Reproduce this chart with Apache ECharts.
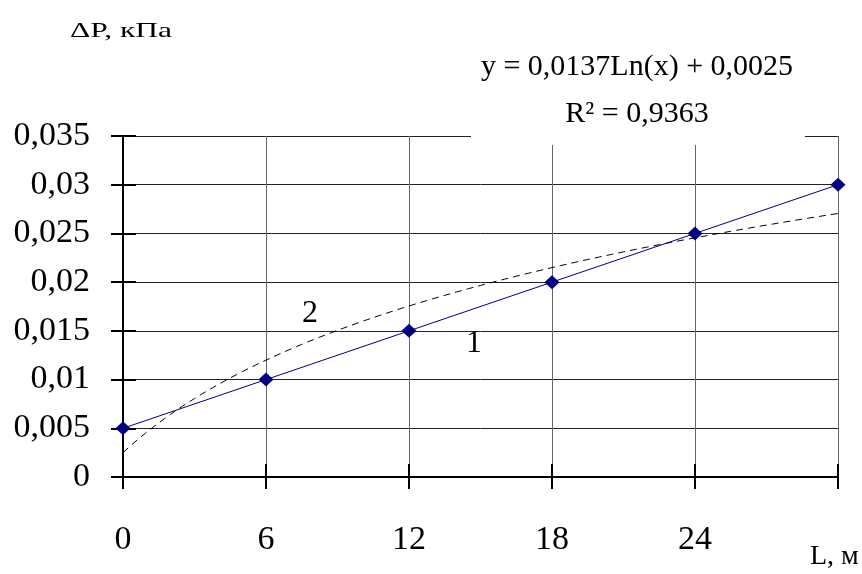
<!DOCTYPE html>
<html>
<head>
<meta charset="utf-8">
<script src="https://cdn.jsdelivr.net/npm/echarts@6/dist/echarts.min.js"></script>
<style>
  html, body { margin: 0; padding: 0; background: #fff; }
  #chart { width: 862px; height: 574px; }
</style>
</head>
<body>
<div id="chart"></div>
<script>
// Measured pressure drop along the length
const lengths = [0, 6, 12, 18, 24, 30];
const pressureDrop = [0.005, 0.01, 0.015, 0.02, 0.025, 0.03];

// Axis tick labels
const xTickLabels = ['0', '6', '12', '18', '24', ''];
const yTickLabels = ['0', '0,005', '0,01', '0,015', '0,02', '0,025', '0,03', '0,035'];

// Logarithmic trendline y = a*Ln(x) + b, with x the point number (1..6)
const trendA = 0.0137;
const trendB = 0.0025;
const trendText = ['y = 0,0137Ln(x) + 0,0025', 'R² = 0,9363'];

const step = 6;
const trendPoints = [];
for (let L = 0; L <= 30; L += 0.25) {
  trendPoints.push([L, trendA * Math.log(L / step + 1) + trendB]);
}

const serif = '"Liberation Serif", "Times New Roman", serif';
const chart = echarts.init(document.getElementById('chart'), null, { renderer: 'canvas' });

const xBase = { type: 'value', min: 0, max: 30, interval: 6 };
const yBase = { type: 'value', min: 0, max: 0.035, interval: 0.005 };

function label(text, x, y, size, align, extra) {
  return Object.assign({
    type: 'text', x: x, y: y, z: 51,
    style: { text: text, font: size + 'px ' + serif, fill: '#000', align: align || 'center', verticalAlign: 'middle' }
  }, extra || {});
}

chart.setOption({
  backgroundColor: '#fff',
  animation: false,
  grid: { left: 123, right: 24, top: 136, bottom: 97 },
  xAxis: [
    Object.assign({}, xBase, {
      axisLine: { show: true, lineStyle: { color: '#000', width: 2 } },
      axisTick: { show: true, inside: false, length: 12, lineStyle: { color: '#000', width: 2 } },
      axisLabel: {
        margin: 46, fontFamily: serif, fontSize: 34, color: '#000',
        formatter: v => xTickLabels[Math.round(v / step)]
      },
      splitLine: { show: true, lineStyle: { color: '#666', width: 1 } }
    }),
    Object.assign({}, xBase, {
      position: 'bottom',
      axisLine: { show: false },
      axisTick: { show: true, inside: true, length: 13, lineStyle: { color: '#000', width: 2 } },
      axisLabel: { show: false },
      splitLine: { show: false }
    })
  ],
  yAxis: [
    Object.assign({}, yBase, {
      axisLine: { show: true, lineStyle: { color: '#000', width: 2 } },
      axisTick: { show: true, inside: false, length: 12, lineStyle: { color: '#000', width: 2 } },
      axisLabel: {
        margin: 33, fontFamily: serif, fontSize: 34, color: '#000',
        formatter: v => yTickLabels[Math.round(v / 0.005)]
      },
      splitLine: { show: true, lineStyle: { color: '#222', width: 1 } }
    }),
    Object.assign({}, yBase, {
      position: 'left',
      axisLine: { show: false },
      axisTick: { show: true, inside: true, length: 13, lineStyle: { color: '#000', width: 2 } },
      axisLabel: { show: false },
      splitLine: { show: false }
    })
  ],
  series: [
    {
      name: '2',
      type: 'line',
      data: trendPoints,
      showSymbol: false,
      lineStyle: { color: '#000', width: 1, type: [7, 5] },
      z: 3
    },
    {
      name: '1',
      type: 'line',
      data: lengths.map((L, i) => [L, pressureDrop[i]]),
      symbol: 'diamond',
      symbolSize: [15, 14],
      itemStyle: { color: '#000080' },
      lineStyle: { color: '#000080', width: 1 },
      z: 4
    }
  ],
  graphic: [
    {
      type: 'rect',
      shape: { x: 471, y: 40, width: 334, height: 105 },
      style: { fill: '#fff' },
      z: 50
    },
    label(trendText[0], 637, 67, 30),
    label(trendText[1], 637, 114, 30),
    label('ΔP, кПа', 70, 31, 21, 'left', { scaleX: 1.5, originX: 0, originY: 0 }),
    label('L, м', 810, 557, 28, 'left'),
    label('2', 310, 314, 32),
    label('1', 474, 344, 32)
  ]
});
</script>
</body>
</html>
